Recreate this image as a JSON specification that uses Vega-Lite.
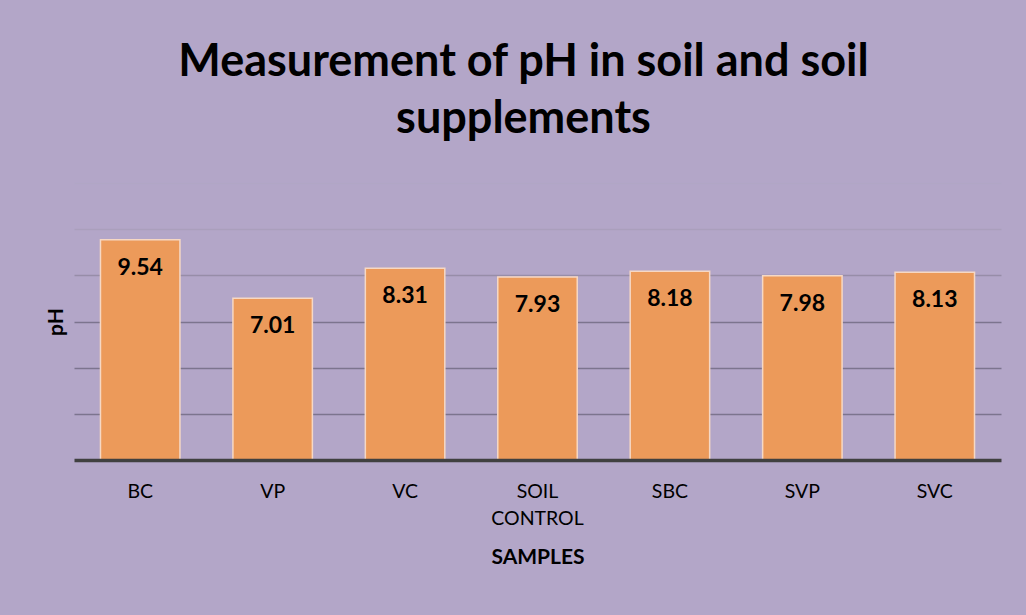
{
  "$schema": "https://vega.github.io/schema/vega-lite/v6.json",
  "width": 927,
  "height": 277,
  "autosize": {"type": "none"},
  "padding": {"left": 74, "top": 183, "right": 25, "bottom": 155},
  "background": "#b3a6c8",
  "title": {
    "text": ["Measurement of pH in soil and soil", "supplements"],
    "font": "Lato",
    "fontSize": 45,
    "fontWeight": "bold",
    "color": "#000000",
    "lineHeight": 57,
    "anchor": "middle",
    "frame": "group",
    "offset": 41,
    "dx": -14
  },
  "data": {
    "values": [
      {"sample": "BC", "pH": 9.54},
      {"sample": "VP", "pH": 7.01},
      {"sample": "VC", "pH": 8.31},
      {"sample": "SOIL CONTROL", "pH": 7.93},
      {"sample": "SBC", "pH": 8.18},
      {"sample": "SVP", "pH": 7.98},
      {"sample": "SVC", "pH": 8.13}
    ]
  },
  "encoding": {
    "x": {
      "field": "sample",
      "type": "nominal",
      "sort": null,
      "title": "SAMPLES",
      "scale": {"paddingInner": 0.4, "paddingOuter": 0.2},
      "axis": {
        "labelAngle": 0,
        "labelFont": "Lato",
        "labelFontSize": 19.5,
        "labelColor": "#000000",
        "labelPadding": 22,
        "labelLineHeight": 27,
        "labelExpr": "datum.label == 'SOIL CONTROL' ? ['SOIL', 'CONTROL'] : datum.label",
        "ticks": false,
        "domainColor": "#404040",
        "domainWidth": 3.5,
        "titleFont": "Lato",
        "titleFontSize": 21,
        "titleFontWeight": "bold",
        "titleColor": "#000000",
        "titlePadding": 19,
        "zindex": 1
      }
    },
    "y": {
      "field": "pH",
      "type": "quantitative",
      "title": "pH",
      "scale": {"domain": [0, 12], "nice": false},
      "axis": {
        "values": [2, 4, 6, 8, 10, 12],
        "labels": false,
        "ticks": false,
        "domain": false,
        "gridWidth": 1.5,
        "gridColor": {
          "condition": [
            {"test": "datum.value >= 12", "value": "#b1a6c5"},
            {"test": "datum.value >= 10", "value": "#aa9fbc"},
            {"test": "datum.value >= 8", "value": "#978da8"}
          ],
          "value": "#7c748e"
        },
        "titleFont": "Lato",
        "titleFontSize": 21,
        "titleFontWeight": "bold",
        "titleColor": "#000000",
        "titlePadding": 8
      }
    }
  },
  "layer": [
    {
      "mark": {"type": "bar", "color": "#ec9a5a", "stroke": "#f6d8c4", "strokeWidth": 1.5}
    },
    {
      "mark": {"type": "text", "baseline": "middle", "dy": 28, "font": "Lato", "fontSize": 23, "fontWeight": "bold", "color": "#000000"},
      "encoding": {"text": {"field": "pH", "type": "quantitative", "format": ".2f"}}
    }
  ],
  "config": {"view": {"stroke": null}}
}
